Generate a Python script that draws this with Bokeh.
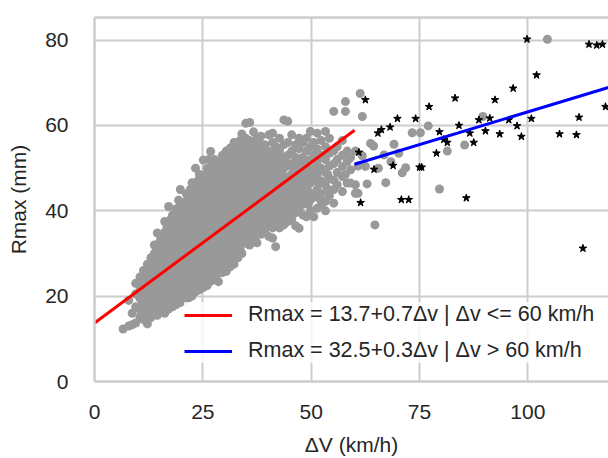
from bokeh.plotting import figure
from bokeh.models import Range1d, FixedTicker, LinearAxis
from bokeh.embed import file_html
from bokeh.resources import INLINE

# ---------------- data ----------------
# gray cloud (all events), grouped by delta-v column: (dv, [Rmax values])
cloud_columns = [
    (6.6, [12.3]),
    (7.9, [13.0, 19.0]),
    (8.7, [13.3, 16.0]),
    (9.5, [13.7, 17.5, 20.5, 23.0]),
    (10.5, [15.0, 17.0, 19.5, 22.0, 24.5]),
    (11.3, [14.5, 16.5, 18.5, 21.0, 23.5, 26.0]),
    (12.2, [13.5, 16.0, 18.0, 20.0, 22.5, 25.0, 27.5]),
    (13.0, [15.0, 17.0, 19.0, 21.5, 24.0, 26.5, 29.0]),
    (13.8, [16.0, 18.0, 20.0, 22.5, 25.0, 27.5, 30.0, 32.0]),
    (14.5, [15.5, 17.5, 19.5, 21.5, 24.0, 26.0, 28.5, 31.0, 34.8]),
    (15.3, [16.5, 18.5, 20.5, 23.0, 25.0, 27.5, 29.5, 31.5, 33.5]),
    (16.2, [16.0, 18.0, 20.0, 22.0, 24.5, 26.5, 28.5, 30.5, 32.5, 35.0, 37.5]),
    (17.1, [17.0, 19.0, 21.0, 23.0, 25.5, 27.5, 29.5, 31.5, 34.0, 36.0, 41.0]),
    (18.0, [17.5, 19.5, 21.5, 23.5, 26.0, 28.0, 30.0, 32.5, 34.5, 37.0, 39.0]),
    (18.9, [18.0, 20.0, 22.0, 24.5, 26.5, 28.5, 31.0, 33.0, 35.5, 38.0, 40.5]),
    (19.8, [18.5, 20.5, 23.0, 25.0, 27.0, 29.5, 31.5, 33.5, 36.0, 38.5, 41.0, 45.0]),
    (20.7, [19.0, 21.0, 23.5, 25.5, 27.5, 30.0, 32.0, 34.5, 37.0, 39.0, 42.0]),
    (21.6, [19.5, 22.0, 24.0, 26.0, 28.5, 30.5, 33.0, 35.0, 37.5, 40.0, 43.0]),
    (22.5, [20.0, 22.5, 24.5, 27.0, 29.0, 31.5, 33.5, 36.0, 38.5, 41.0, 44.0, 46.6]),
    (23.3, [21.0, 23.0, 25.5, 27.5, 30.0, 32.0, 34.5, 37.0, 39.5, 42.0, 45.0, 50.0]),
    (24.2, [21.5, 24.0, 26.0, 28.5, 30.5, 33.0, 35.5, 38.0, 40.5, 43.0, 46.0, 48.5]),
    (25.1, [22.0, 24.5, 27.0, 29.0, 31.5, 34.0, 36.0, 38.5, 41.0, 44.0, 47.0, 51.9]),
    (26.0, [22.5, 25.0, 27.5, 30.0, 32.5, 34.5, 37.0, 39.5, 42.0, 44.5, 47.5, 50.0]),
    (26.8, [23.5, 26.0, 28.5, 31.0, 33.0, 35.5, 38.0, 40.5, 43.0, 45.5, 48.5, 53.9]),
    (27.7, [24.0, 26.5, 29.0, 31.5, 34.0, 36.5, 39.0, 41.5, 44.0, 46.5, 49.5, 52.0]),
    (28.6, [23.4, 25.5, 28.0, 30.5, 33.0, 35.5, 38.0, 40.5, 43.0, 45.5, 48.0, 51.0]),
    (29.5, [25.5, 28.0, 30.5, 33.0, 35.5, 38.0, 40.5, 43.0, 45.5, 48.0, 50.5, 53.0]),
    (30.4, [25.8, 28.5, 31.0, 33.5, 36.0, 38.5, 41.0, 43.5, 46.0, 48.5, 51.5, 54.0]),
    (31.3, [26.9, 29.5, 32.0, 34.5, 37.0, 39.5, 42.0, 44.5, 47.0, 49.5, 52.5, 54.7]),
    (32.2, [27.5, 30.0, 32.5, 35.0, 37.5, 40.0, 42.5, 45.0, 47.5, 50.0, 53.0, 56.0]),
    (33.1, [29.0, 31.5, 34.0, 36.5, 39.0, 41.5, 44.0, 46.5, 49.0, 51.5, 54.5]),
    (34.0, [30.0, 32.5, 35.0, 37.5, 40.0, 42.5, 45.0, 47.5, 50.0, 52.5, 55.0, 58.0]),
    (34.9, [32.4, 34.5, 37.0, 39.5, 42.0, 44.5, 47.0, 49.5, 52.0, 54.5, 57.0, 60.5]),
    (35.8, [32.0, 34.0, 36.5, 39.0, 41.5, 44.0, 46.5, 49.0, 51.5, 54.0, 56.5, 60.7]),
    (36.7, [33.5, 36.0, 38.5, 41.0, 43.5, 46.0, 48.5, 51.0, 53.5, 56.0, 58.5]),
    (37.5, [32.5, 35.0, 37.5, 40.0, 42.5, 45.0, 47.5, 50.0, 52.5, 55.0, 57.0]),
    (38.4, [34.5, 37.0, 39.5, 42.0, 44.5, 47.0, 49.5, 52.0, 54.5, 57.5]),
    (39.3, [35.0, 37.5, 40.0, 42.5, 45.0, 47.5, 50.5, 53.0, 55.5]),
    (40.2, [34.0, 36.5, 39.0, 41.5, 44.0, 46.5, 49.0, 51.5, 54.0, 57.8]),
    (41.1, [33.6, 36.0, 38.5, 41.0, 43.5, 46.0, 48.5, 51.0, 53.5, 56.0, 58.2]),
    (41.8, [31.6, 37.5, 40.0, 42.5, 45.0, 47.5, 50.0, 52.5, 55.0]),
    (42.7, [36.0, 38.5, 41.0, 43.5, 46.0, 49.0, 51.5, 54.0, 57.0]),
    (43.7, [36.7, 39.5, 42.0, 44.5, 47.0, 50.0, 52.5, 55.5, 61.3]),
    (44.6, [37.5, 40.0, 42.5, 45.0, 48.0, 50.5, 53.0, 56.0, 61.0]),
    (45.5, [38.0, 41.0, 43.5, 46.0, 48.5, 51.0, 54.0, 57.8]),
    (46.4, [36.5, 39.5, 42.0, 44.5, 47.5, 50.0, 52.5, 55.5]),
    (47.2, [35.9, 40.5, 43.0, 46.0, 48.5, 51.5, 54.5, 57.0]),
    (48.1, [39.0, 41.5, 44.0, 47.0, 49.5, 52.5, 56.0]),
    (48.9, [38.6, 43.3, 45.5, 48.0, 51.0, 54.0, 57.0]),
    (49.8, [40.0, 42.5, 46.5, 49.5, 52.0, 55.0, 58.6]),
    (50.6, [38.6, 44.0, 47.0, 50.0, 53.0, 56.0]),
    (51.4, [40.6, 45.0, 48.5, 51.5, 54.5, 58.2]),
    (52.3, [41.5, 44.0, 47.0, 50.0, 53.0, 56.5]),
    (53.3, [40.0, 42.2, 46.0, 49.0, 52.0, 55.0, 58.6]),
    (54.2, [43.5, 47.5, 50.5, 53.5, 57.0]),
    (55.2, [41.8, 45.0, 47.2, 51.0, 54.0, 63.3]),
    (56.0, [46.1, 49.0, 52.0, 55.0]),
    (57.2, [44.5, 48.0, 50.4, 53.0, 56.5]),
    (57.9, [48.5, 63.3, 65.6]),
    (58.3, [46.5, 51.5, 54.0]),
    (59.1, [46.5, 49.6, 52.5]),
    (60.2, [44.1, 46.1, 54.0]),
    (60.8, [44.1, 50.5]),
    (61.3, [67.5]),
    (61.8, [52.9, 62.1]),
    (62.5, [50.4]),
    (62.9, [46.3]),
    (63.7, [55.8]),
    (64.4, [55.2]),
    (64.7, [36.7]),
    (65.5, [50.0]),
    (66.8, [53.1]),
    (67.2, [46.6]),
    (68.4, [51.5]),
    (69.1, [55.6]),
    (70.2, [53.5]),
    (71.0, [48.9]),
    (71.8, [50.1]),
    (73.3, [58.3]),
    (75.2, [58.3]),
    (77.0, [59.9]),
    (79.6, [45.1]),
    (81.4, [54.0]),
    (85.4, [55.4]),
    (89.6, [62.1]),
    (104.5, [80.2]),
]

# densest part of the gray cloud (points between the columns above)
core_columns = [
    (10.9, [16.0, 18.0, 20.5, 23.0]),
    (11.8, [15.5, 17.5, 19.5, 22.0, 24.5]),
    (12.6, [14.8, 17.0, 19.0, 21.0, 23.5, 26.0]),
    (13.4, [16.0, 18.0, 20.5, 23.0, 25.5, 28.0]),
    (14.2, [17.0, 19.0, 21.0, 23.5, 26.0, 29.0]),
    (14.9, [16.5, 18.5, 20.5, 22.5, 25.0, 27.5, 30.0, 32.5]),
    (15.8, [17.5, 19.5, 21.5, 24.0, 26.0, 28.5, 30.5, 33.0]),
    (16.7, [17.0, 19.0, 21.0, 23.0, 25.5, 27.5, 29.5, 32.0, 34.0, 36.5]),
    (17.6, [18.5, 20.5, 22.5, 24.5, 27.0, 29.0, 31.0, 33.5, 35.5, 38.0]),
    (18.5, [19.0, 21.0, 23.0, 25.5, 27.5, 29.5, 32.0, 34.0, 36.5, 39.0]),
    (19.4, [19.5, 21.5, 24.0, 26.0, 28.0, 30.5, 32.5, 35.0, 37.5, 40.0, 42.5]),
    (20.3, [20.0, 22.0, 24.5, 26.5, 28.5, 31.0, 33.0, 35.5, 38.0, 40.5]),
    (21.2, [20.5, 23.0, 25.0, 27.0, 29.5, 31.5, 34.0, 36.0, 38.5, 41.0, 44.0]),
    (22.1, [21.0, 23.5, 25.5, 28.0, 30.0, 32.5, 34.5, 37.0, 39.5, 42.0, 45.0]),
    (22.9, [22.0, 24.0, 26.5, 28.5, 31.0, 33.0, 35.5, 38.0, 40.5, 43.0, 46.0]),
    (23.8, [22.5, 25.0, 27.0, 29.5, 31.5, 34.0, 36.5, 39.0, 41.5, 44.0, 47.0]),
    (24.7, [23.0, 25.5, 28.0, 30.0, 32.5, 35.0, 37.0, 39.5, 42.0, 45.0, 48.0]),
    (25.6, [23.5, 26.0, 28.5, 31.0, 33.5, 35.5, 38.0, 40.5, 43.0, 45.5, 48.5]),
    (26.4, [24.5, 27.0, 29.5, 32.0, 34.0, 36.5, 39.0, 41.5, 44.0, 46.5, 49.5, 52.0]),
    (27.3, [25.0, 27.5, 30.0, 32.5, 35.0, 37.5, 40.0, 42.5, 45.0, 47.5, 50.5]),
    (28.2, [25.0, 27.0, 29.5, 32.0, 34.5, 37.0, 39.5, 42.0, 44.5, 47.0, 49.5]),
    (29.1, [26.5, 29.0, 31.5, 34.0, 36.5, 39.0, 41.5, 44.0, 46.5, 49.0, 51.5]),
    (30.0, [27.0, 29.5, 32.0, 34.5, 37.0, 39.5, 42.0, 44.5, 47.0, 49.5, 52.5]),
    (30.9, [28.0, 30.5, 33.0, 35.5, 38.0, 40.5, 43.0, 45.5, 48.0, 50.5, 53.0]),
    (31.8, [28.5, 31.0, 33.5, 36.0, 38.5, 41.0, 43.5, 46.0, 48.5, 51.0, 54.5]),
    (32.7, [30.0, 32.5, 35.0, 37.5, 40.0, 42.5, 45.0, 47.5, 50.0, 52.0]),
    (33.6, [31.0, 33.5, 36.0, 38.5, 41.0, 43.5, 46.0, 48.5, 51.0, 53.5, 56.5]),
    (34.5, [33.5, 36.0, 38.5, 41.0, 43.5, 46.0, 48.5, 51.0, 53.5]),
    (35.4, [33.0, 35.5, 38.0, 40.5, 43.0, 45.5, 48.0, 50.5, 53.0, 55.5]),
    (36.2, [35.0, 37.5, 40.0, 42.5, 45.0, 47.5, 50.0, 52.5, 55.0]),
    (37.1, [34.0, 36.5, 39.0, 41.5, 44.0, 46.5, 49.0, 51.5, 54.0]),
    (38.0, [36.0, 38.5, 41.0, 43.5, 46.0, 48.5, 51.0, 53.5, 56.0]),
    (38.9, [36.0, 38.5, 41.0, 43.5, 46.0, 49.0, 51.5, 54.0]),
    (39.8, [37.5, 40.0, 42.5, 45.0, 48.0, 50.5]),
    (40.6, [37.5, 40.0, 42.5, 45.0, 47.5, 52.5]),
    (42.3, [39.5, 42.0, 44.5, 47.0]),
    (43.2, [38.0, 40.5, 45.5, 48.5]),
    (44.1, [41.0, 43.5, 46.0, 51.5]),
    (45.0, [39.0, 44.5, 47.0]),
    (46.0, [40.5, 45.5, 49.0]),
    (47.6, [42.0, 44.5, 50.0]),
    (49.3, [41.5, 44.5, 47.0]),
    (50.2, [43.0, 48.0]),
    (51.8, [43.0, 46.5]),
    (53.8, [45.0, 48.5]),
]

# black stars (high delta-v subset)
star_dv = [99.8, 114.1, 115.9, 117.2, 102.0, 96.6, 62.5, 83.2, 92.4, 77.2,
           117.9, 69.9, 74.1, 88.7, 91.2, 100.8, 111.8, 95.6, 68.2, 66.2,
           65.4, 84.1, 79.6, 90.2, 97.5, 86.6, 93.5, 98.5, 107.3, 111.2,
           80.6, 81.4, 87.5, 61.0, 78.9, 68.9, 64.5, 75.0, 75.5, 61.4,
           70.8, 72.5, 85.8, 112.7]
star_rmax = [80.2, 79.0, 78.8, 79.0, 71.8, 68.7, 66.0, 66.4, 66.0, 64.4,
             64.4, 61.6, 61.6, 61.3, 61.7, 61.6, 61.9, 61.3, 59.6, 59.0,
             58.2, 60.0, 58.5, 58.7, 59.9, 58.2, 58.0, 57.4, 58.0, 57.8,
             56.7, 56.0, 56.0, 53.7, 53.5, 50.6, 49.7, 50.2, 50.2, 41.9,
             42.6, 42.6, 43.0, 31.2]

# fitted lines: (intercept, slope, dv start, dv end)
low_fit = (13.7, 0.753, 0.0, 60.0)
high_fit = (32.5, 0.307, 60.0, 125.0)
low_label = "Rmax = 13.7+0.7Δv | Δv <= 60 km/h"
high_label = "Rmax = 32.5+0.3Δv | Δv > 60 km/h"
x_title = "ΔV (km/h)"
y_title = "Rmax (mm)"

x_ticks = [0, 25, 50, 75, 100]
y_ticks = [0, 20, 40, 60, 80]

# ---------------- build ----------------
all_columns = cloud_columns + core_columns
gray_dv = [c[0] for c in all_columns for _ in c[1]]
gray_rmax = [v for c in all_columns for v in c[1]]

FONT = "Liberation Sans"
TXT = "#262626"
GRID = "#cccccc"

p = figure(width=608, height=458, output_backend="svg", toolbar_location=None,
           x_range=Range1d(0, 118.6), y_range=Range1d(0, 85.3),
           min_border_left=94, min_border_right=0, min_border_top=17,
           min_border_bottom=76)
p.outline_line_color = None
p.background_fill_color = "white"
p.border_fill_color = "white"

p.xaxis.ticker = FixedTicker(ticks=x_ticks)
p.yaxis.ticker = FixedTicker(ticks=y_ticks)
p.xgrid.ticker = FixedTicker(ticks=x_ticks)
p.ygrid.ticker = FixedTicker(ticks=y_ticks)
p.grid.grid_line_color = GRID
p.grid.grid_line_width = 2

for ax in (p.xaxis[0], p.yaxis[0]):
    ax.axis_line_color = GRID
    ax.axis_line_width = 2.5
    ax.major_tick_line_color = None
    ax.minor_tick_line_color = None
    ax.major_tick_out = 0
    ax.major_tick_in = 0
    ax.major_label_text_font = FONT
    ax.major_label_text_font_size = "21px"
    ax.major_label_text_color = TXT
    ax.axis_label_text_font = FONT
    ax.axis_label_text_font_size = "21px"
    ax.axis_label_text_font_style = "normal"
    ax.axis_label_text_color = TXT

p.xaxis.axis_label = x_title
p.yaxis.axis_label = y_title
p.xaxis.major_label_standoff = 23
p.xaxis.axis_label_standoff = 11
p.yaxis.major_label_standoff = 26
p.yaxis.axis_label_standoff = 12

top = LinearAxis(ticker=FixedTicker(ticks=[]), axis_line_color=GRID, axis_line_width=2.5,
                 major_tick_line_color=None, minor_tick_line_color=None,
                 major_tick_out=0, major_label_standoff=0)
p.add_layout(top, "above")

p.scatter(gray_dv, gray_rmax, size=9, color="#999999", line_color=None)
p.scatter(star_dv, star_rmax, marker="star", size=8, color="black", line_color="black")

a, b, x0, x1 = low_fit
p.line([x0, x1], [a + b * x0, a + b * x1], line_color="red", line_width=3, legend_label=low_label)
a, b, x0, x1 = high_fit
p.line([x0, x1], [a + b * x0, a + b * x1], line_color="blue", line_width=3, legend_label=high_label)

lg = p.legend[0]
lg.location = (90, 18)
lg.glyph_width = 48
lg.glyph_height = 20
lg.label_height = 20
lg.label_standoff = 16
lg.spacing = 11
lg.padding = 10
lg.margin = 0
lg.border_line_color = None
lg.background_fill_color = "white"
lg.background_fill_alpha = 0.8
lg.label_text_font = FONT
lg.label_text_font_size = "21.5px"
lg.label_text_color = TXT

open("out.html", "w").write(file_html(p, INLINE))
